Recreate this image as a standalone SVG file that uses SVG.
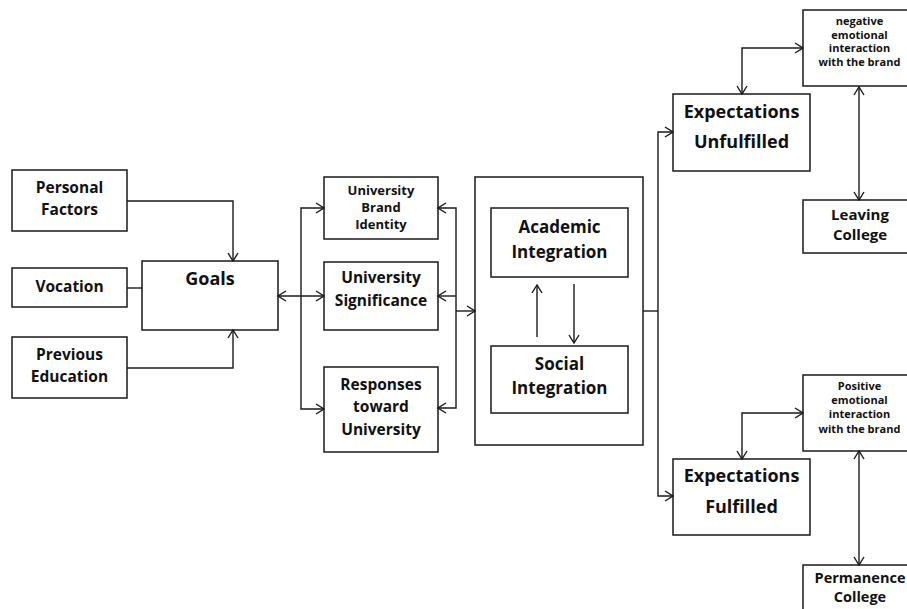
<svg xmlns="http://www.w3.org/2000/svg" width="907" height="609" viewBox="0 0 907 609">
<style>
  .box { fill: #fff; stroke: #1a1a1a; stroke-width: 1.5; }
  .t { font-family: "Open Sans", "Liberation Sans", sans-serif; font-weight: 700; fill: #111; text-anchor: middle; }
  .c { fill: none; stroke: #1a1a1a; stroke-width: 1.4; }
  .a { marker-end: url(#ah); }
  .aa { marker-start: url(#ah); marker-end: url(#ah); }
</style>
<defs>
  <marker id="ah" markerUnits="userSpaceOnUse" viewBox="0 0 10 12" refX="9" refY="6" markerWidth="10" markerHeight="12" orient="auto-start-reverse">
    <path d="M1,1 L9,6 L1,11" fill="none" stroke="#1a1a1a" stroke-width="1.4"/>
  </marker>
</defs>
<rect width="907" height="609" fill="#fff"/>

<g id="personal-factors">
  <rect class="box" x="12" y="170" width="115" height="61"/>
  <text class="t" font-size="15.5"><tspan x="69.5" y="193">Personal</tspan><tspan x="69.5" y="215">Factors</tspan></text>
</g>
<g id="vocation">
  <rect class="box" x="12" y="268" width="115" height="39"/>
  <text class="t" font-size="15.5" x="69.5" y="292">Vocation</text>
</g>
<g id="previous-education">
  <rect class="box" x="12" y="337" width="115" height="61"/>
  <text class="t" font-size="15.5"><tspan x="69.5" y="360">Previous</tspan><tspan x="69.5" y="382">Education</tspan></text>
</g>
<g id="goals">
  <rect class="box" x="142" y="261" width="136" height="69"/>
  <text class="t" font-size="18" x="210" y="285">Goals</text>
</g>
<g id="university-brand-identity">
  <rect class="box" x="324" y="177" width="114" height="62"/>
  <text class="t" font-size="13"><tspan x="381" y="194.5">University</tspan><tspan x="381" y="211.5">Brand</tspan><tspan x="381" y="228.5">Identity</tspan></text>
</g>
<g id="university-significance">
  <rect class="box" x="324" y="262" width="114" height="68"/>
  <text class="t" font-size="15.5"><tspan x="381" y="283">University</tspan><tspan x="381" y="306">Significance</tspan></text>
</g>
<g id="responses-toward-university">
  <rect class="box" x="324" y="367" width="114" height="85"/>
  <text class="t" font-size="15.5"><tspan x="381" y="390">Responses</tspan><tspan x="381" y="412">toward</tspan><tspan x="381" y="435">University</tspan></text>
</g>
<g id="integration">
  <rect class="box" x="475" y="177" width="168" height="268"/>
</g>
<g id="academic-integration">
  <rect class="box" x="491" y="208" width="137" height="69"/>
  <text class="t" font-size="17"><tspan x="559.5" y="233">Academic</tspan><tspan x="559.5" y="258">Integration</tspan></text>
</g>
<g id="social-integration">
  <rect class="box" x="491" y="346" width="137" height="67"/>
  <text class="t" font-size="17"><tspan x="559.5" y="370">Social</tspan><tspan x="559.5" y="394">Integration</tspan></text>
</g>
<g id="expectations-unfulfilled">
  <rect class="box" x="673" y="94" width="137" height="77"/>
  <text class="t" font-size="18"><tspan x="741.5" y="118">Expectations</tspan><tspan x="741.5" y="148">Unfulfilled</tspan></text>
</g>
<g id="expectations-fulfilled">
  <rect class="box" x="673" y="459" width="137" height="76"/>
  <text class="t" font-size="18"><tspan x="741.5" y="482">Expectations</tspan><tspan x="741.5" y="513">Fulfilled</tspan></text>
</g>
<g id="negative-interaction">
  <rect class="box" x="803" y="10" width="115" height="76"/>
  <text class="t" font-size="11"><tspan x="859.5" y="25">negative</tspan><tspan x="859.5" y="38.5">emotional</tspan><tspan x="859.5" y="52">interaction</tspan><tspan x="859.5" y="65.5">with the brand</tspan></text>
</g>
<g id="leaving-college">
  <rect class="box" x="803" y="200" width="115" height="53"/>
  <text class="t" font-size="15"><tspan x="860" y="220">Leaving</tspan><tspan x="860" y="240">College</tspan></text>
</g>
<g id="positive-interaction">
  <rect class="box" x="803" y="375" width="115" height="76"/>
  <text class="t" font-size="11"><tspan x="859.5" y="390">Positive</tspan><tspan x="859.5" y="404">emotional</tspan><tspan x="859.5" y="418">interaction</tspan><tspan x="859.5" y="432.5">with the brand</tspan></text>
</g>
<g id="permanence-college">
  <rect class="box" x="803" y="565" width="115" height="60"/>
  <text class="t" font-size="14.5"><tspan x="860" y="583">Permanence</tspan><tspan x="860" y="602">College</tspan></text>
</g>

<g id="connectors">
  <path class="c a" d="M127,201 H233 V261"/>
  <path class="c" d="M127,288 H142"/>
  <path class="c a" d="M127,368 H233 V330"/>
  <path class="c aa" d="M278,296 H324"/>
  <path class="c aa" d="M324,208 H301 V409 H324"/>
  <path class="c aa" d="M438,208 H456 V408 H438"/>
  <path class="c a" d="M456,296 H438"/>
  <path class="c a" d="M456,311 H475"/>
  <path class="c a" d="M537,337 V285"/>
  <path class="c a" d="M574,284 V343"/>
  <path class="c" d="M643,311 H658"/>
  <path class="c aa" d="M673,132 H658 V496 H673"/>
  <path class="c aa" d="M742,94 V48 H803"/>
  <path class="c aa" d="M859,87 V200"/>
  <path class="c aa" d="M742,459 V413 H803"/>
  <path class="c aa" d="M859,451 V565"/>
</g>
</svg>
